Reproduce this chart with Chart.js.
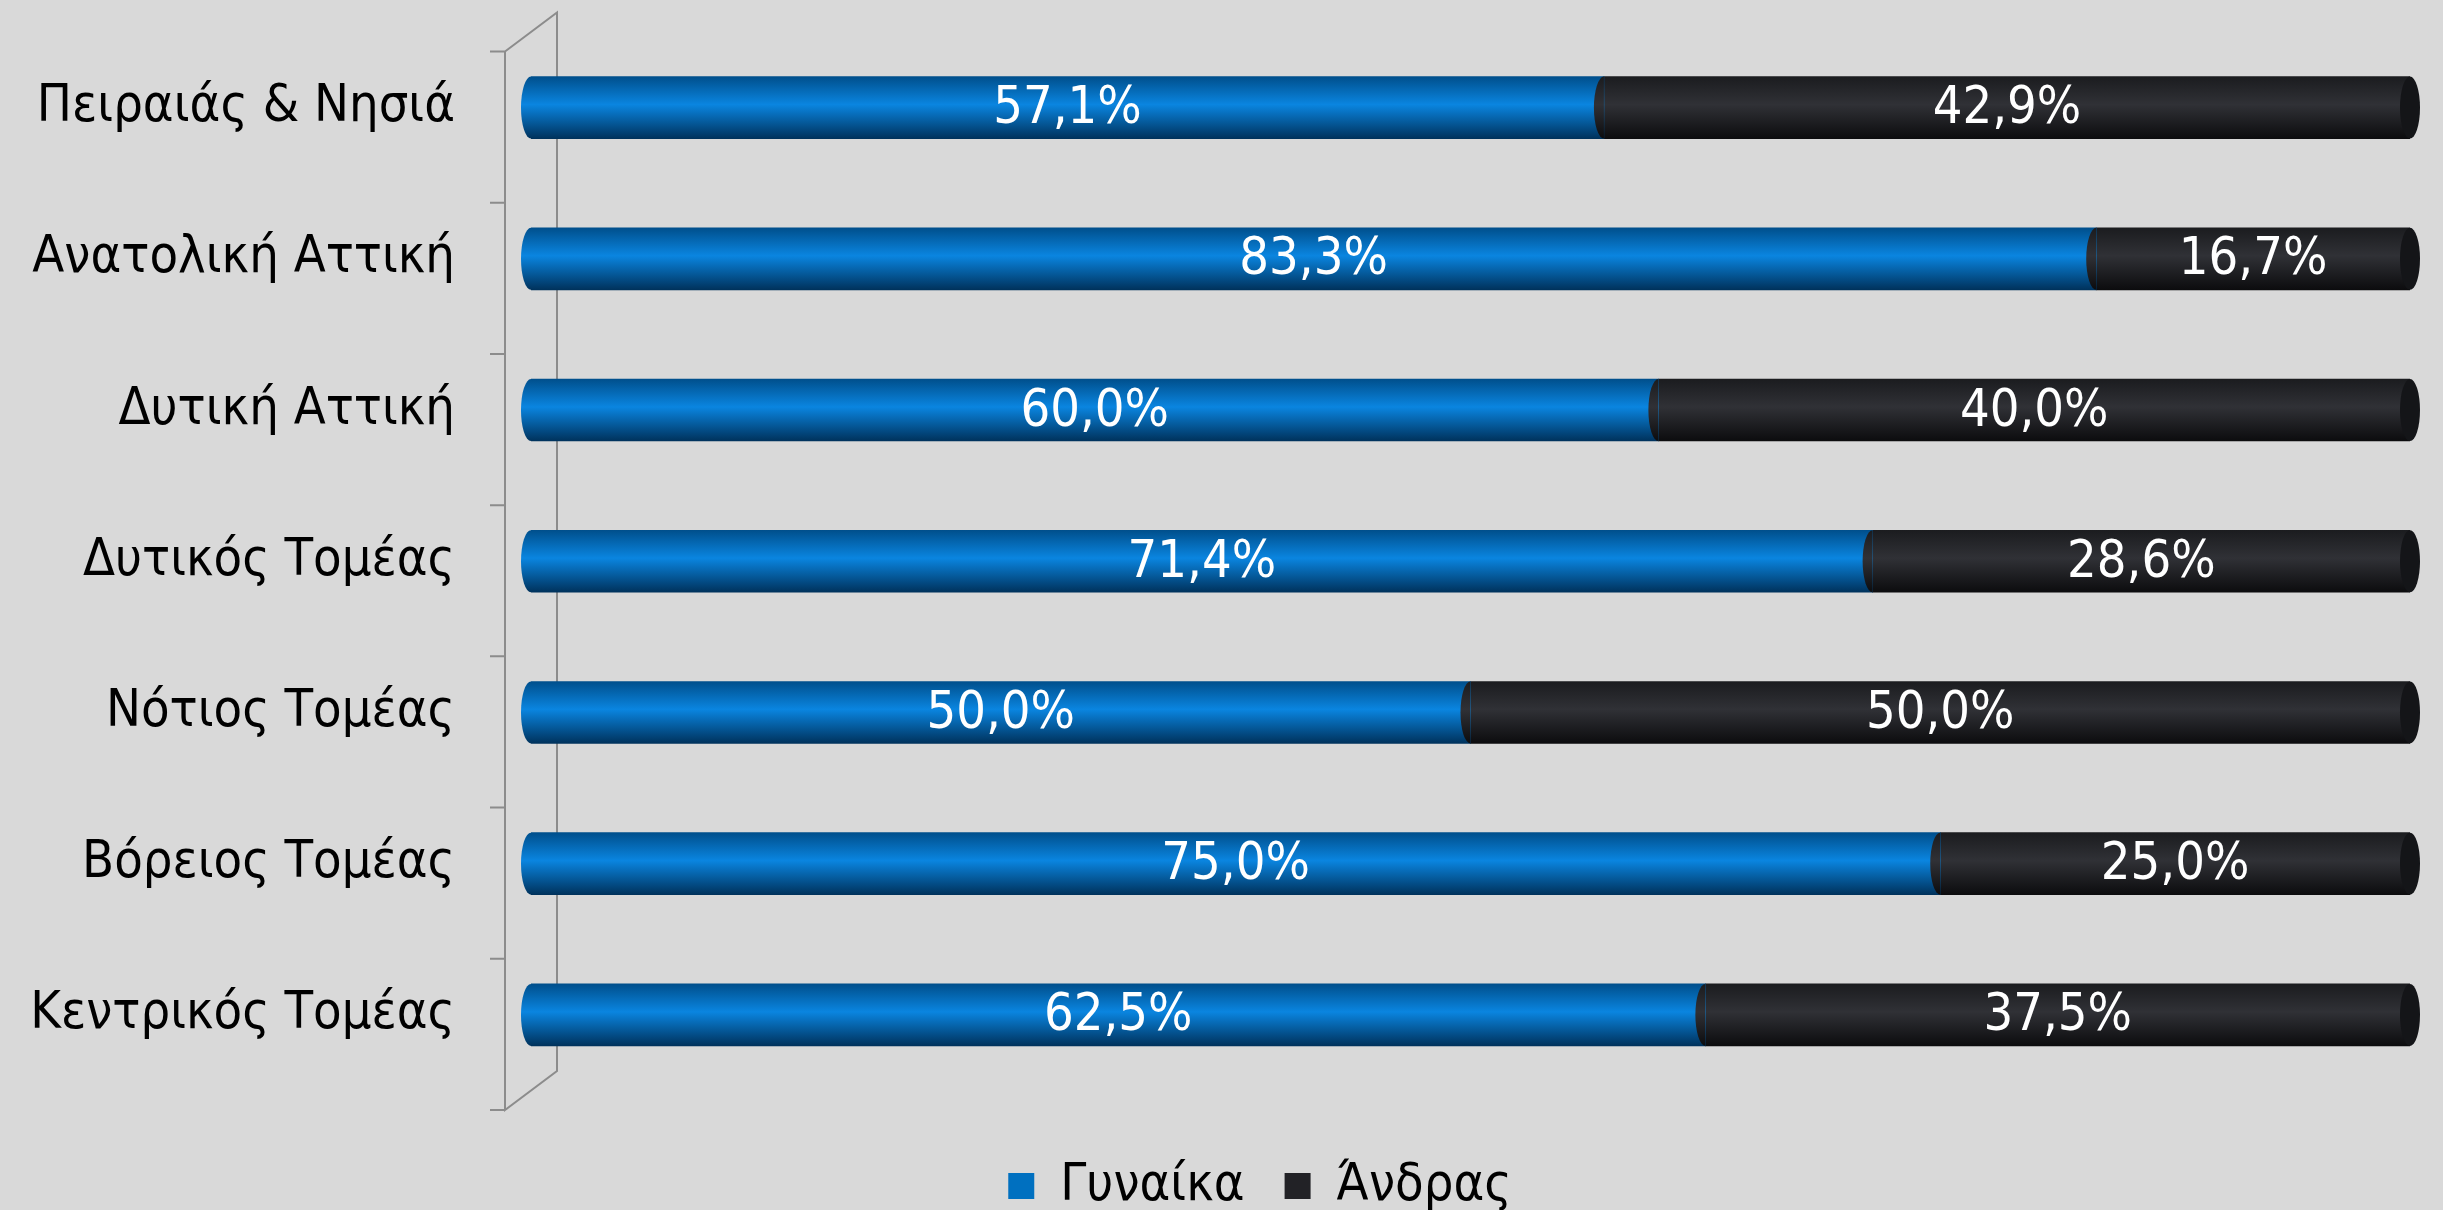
<!DOCTYPE html>
<html>
<head>
<meta charset="utf-8">
<title>Γυναίκα / Άνδρας ανά περιοχή</title>
<script src="https://cdn.jsdelivr.net/npm/chart.js@4.4.1/dist/chart.umd.min.js"></script>
<style>
  html, body { margin: 0; padding: 0; background: #d9d9d9; }
  #wrap { width: 2443px; height: 1210px; position: relative; }
</style>
</head>
<body>
<div id="wrap"><canvas id="chart"></canvas></div>
<script>
const categories = [
  "Πειραιάς & Νησιά",
  "Ανατολική Αττική",
  "Δυτική Αττική",
  "Δυτικός Τομέας",
  "Νότιος Τομέας",
  "Βόρειος Τομέας",
  "Κεντρικός Τομέας"
];
const women = [57.1, 83.3, 60.0, 71.4, 50.0, 75.0, 62.5];
const men = [42.9, 16.7, 40.0, 28.6, 50.0, 25.0, 37.5];
const seriesNames = ["Γυναίκα", "Άνδρας"];

const FONT = "'DejaVu Sans Condensed', 'DejaVu Sans', sans-serif";
const BAR_H = 62;
const CAP_R = 10;

// colour stops for the cylinder look: top, middle, bottom
const shades = {
  blue: ["#004f8c", "#0a85e0", "#00325c"],
  dark: ["#1b1c1f", "#303136", "#0c0c0e"]
};
const capColor = ["#0062a8", "#141518"];

function makeGradient(ctx, y, stops) {
  const g = ctx.createLinearGradient(0, y - BAR_H / 2, 0, y + BAR_H / 2);
  g.addColorStop(0, stops[0]);
  g.addColorStop(0.45, stops[1]);
  g.addColorStop(1, stops[2]);
  return g;
}

function barFill(stops, fallback) {
  return (c) => {
    const chart = c.chart;
    const y = chart.scales.y;
    if (!y || c.dataIndex === undefined) return fallback;
    return makeGradient(chart.ctx, y.getPixelForValue(c.dataIndex), stops);
  };
}

// 3D axis wall on the left side
const wallPlugin = {
  id: "wall",
  afterLayout(chart) {
    // legend sits a little right of the canvas centre in the original
    chart.legend.left += 55;
    chart.legend.right += 55;
  },
  beforeDatasetsDraw(chart) {
    const { ctx, chartArea } = chart;
    const left = chartArea.left;
    const dx = 26, dy = 19.5;
    const top = chartArea.top, bottom = chartArea.bottom;
    const n = categories.length;
    const band = (bottom - top) / n;
    ctx.save();
    ctx.strokeStyle = "#8c8c8c";
    ctx.lineWidth = 2;
    ctx.beginPath();
    ctx.moveTo(left - dx, top + dy);
    ctx.lineTo(left - dx, bottom + dy);
    ctx.lineTo(left + dx, bottom - dy);
    ctx.lineTo(left + dx, top - dy);
    ctx.lineTo(left - dx, top + dy);
    for (let i = 0; i <= n; i++) {
      const yy = top + dy + i * band;
      ctx.moveTo(left - dx - 15, yy);
      ctx.lineTo(left - dx, yy);
    }
    ctx.stroke();
    ctx.restore();
  }
};

// cylinder ends + value labels
const cylinderPlugin = {
  id: "cylinder",
  afterDatasetsDraw(chart) {
    const ctx = chart.ctx;
    const lastDs = chart.data.datasets.length - 1;
    ctx.save();
    chart.data.datasets.forEach((ds, di) => {
      const meta = chart.getDatasetMeta(di);
      const stops = di === 0 ? shades.blue : shades.dark;
      meta.data.forEach((el) => {
        const { x, y, base } = el.getProps(["x", "y", "base"], true);
        // convex left end
        ctx.fillStyle = makeGradient(ctx, y, stops);
        ctx.beginPath();
        ctx.ellipse(base, y, CAP_R, BAR_H / 2, 0, Math.PI / 2, Math.PI * 1.5);
        ctx.closePath();
        ctx.fill();
        if (di === lastDs) {
          ctx.beginPath();
          ctx.ellipse(x, y, CAP_R, BAR_H / 2, 0, 0, Math.PI * 2);
          ctx.fillStyle = capColor[di];
          ctx.fill();
        }
      });
    });
    // value labels
    ctx.fillStyle = "#ffffff";
    ctx.font = "52px " + FONT;
    ctx.textAlign = "center";
    ctx.textBaseline = "middle";
    chart.data.datasets.forEach((ds, di) => {
      const meta = chart.getDatasetMeta(di);
      meta.data.forEach((el, i) => {
        const { x, y, base } = el.getProps(["x", "y", "base"], true);
        const txt = ds.data[i].toFixed(1).replace(".", ",") + "%";
        ctx.fillText(txt, (x + base) / 2, y + 2);
      });
    });
    ctx.restore();
  }
};

new Chart(document.getElementById("chart"), {
  type: "bar",
  data: {
    labels: categories,
    datasets: [
      {
        label: seriesNames[0],
        data: women,
        backgroundColor: barFill(shades.blue, "#0070c0"),
        barThickness: BAR_H,
        borderWidth: 0
      },
      {
        label: seriesNames[1],
        data: men,
        backgroundColor: barFill(shades.dark, "#222226"),
        barThickness: BAR_H,
        borderWidth: 0
      }
    ]
  },
  options: {
    indexAxis: "y",
    responsive: true,
    maintainAspectRatio: false,
    devicePixelRatio: 1,
    animation: false,
    layout: { padding: { top: 32, left: 0, right: 33, bottom: -12 } },
    scales: {
      x: {
        stacked: true,
        min: 0,
        max: 100,
        grid: { display: false },
        border: { display: false },
        ticks: { display: false },
        afterFit: (s) => { s.height = 29.5; }
      },
      y: {
        stacked: true,
        grid: {
          display: true,
          drawOnChartArea: false,
          drawTicks: true,
          tickLength: 76,
          tickColor: "rgba(0,0,0,0)"
        },
        border: { display: false },
        ticks: {
          color: "#000000",
          font: { family: FONT, size: 52 },
          padding: 0
        },
        afterFit: (s) => { s.width = 531; }
      }
    },
    plugins: {
      legend: {
        position: "bottom",
        labels: {
          color: "#000000",
          font: { family: FONT, size: 52 },
          boxWidth: 26,
          boxHeight: 26,
          padding: 40,
          generateLabels: (chart) => chart.data.datasets.map((ds, i) => ({
            text: ds.label,
            fillStyle: i === 0 ? "#0070c0" : "#222226",
            strokeStyle: "transparent",
            lineWidth: 0,
            datasetIndex: i,
            fontColor: "#000000"
          }))
        }
      },
      tooltip: { enabled: false }
    }
  },
  plugins: [wallPlugin, cylinderPlugin]
});
</script>
</body>
</html>
